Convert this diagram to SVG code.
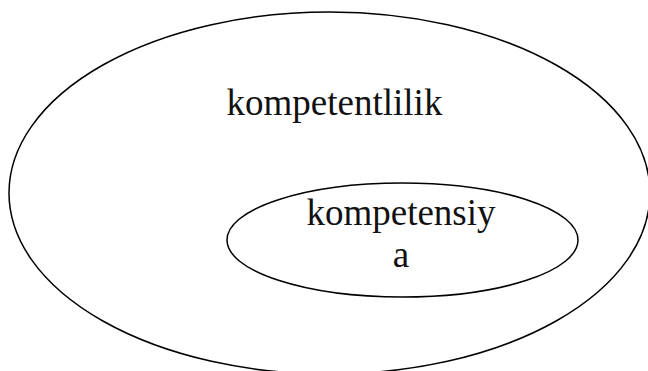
<svg xmlns="http://www.w3.org/2000/svg" width="648" height="371" viewBox="0 0 648 371">
<style>
.shape{fill:none;stroke:#000;stroke-width:1.5}
.lbl{font-family:"Liberation Serif","Times New Roman",serif;font-size:37px;fill:#111;text-anchor:middle}
</style>
<rect width="648" height="371" fill="#fff"/>
<g id="outer">
<ellipse class="shape" cx="329.5" cy="193" rx="320.5" ry="181"/>
<text class="lbl" x="334.5" y="115">kompetentlilik</text>
</g>
<g id="inner">
<ellipse class="shape" cx="402.5" cy="240" rx="175.5" ry="57"/>
<text class="lbl" x="401" y="225">kompetensiy</text>
<text class="lbl" x="401" y="267">a</text>
</g>
<g id="connectors"></g>
</svg>
